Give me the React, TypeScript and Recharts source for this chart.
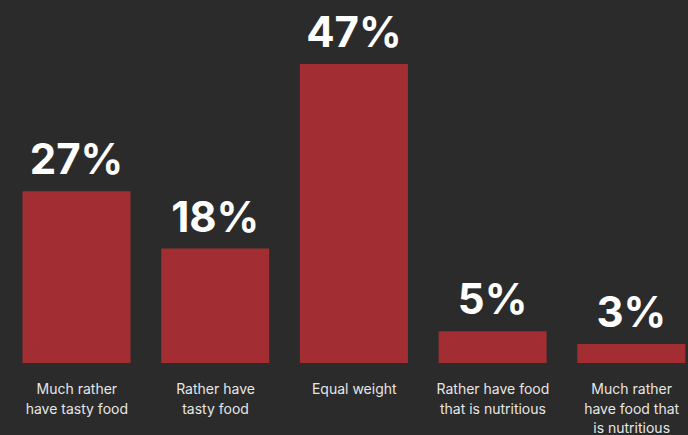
import React from "react";
import { BarChart, Bar, XAxis, YAxis, LabelList } from "recharts";

const categories: string[][] = [
  ["Much rather", "have tasty food"],
  ["Rather have", "tasty food"],
  ["Equal weight"],
  ["Rather have food", "that is nutritious"],
  ["Much rather", "have food that", "is nutritious"],
];
const percents: number[] = [27, 18, 47, 5, 3];

const data = categories.map((lines, i) => ({
  name: lines.join(" "),
  value: percents[i],
}));

const FONT = "Inter, 'Noto Sans', sans-serif";

if (typeof document !== "undefined") {
  document.body.style.margin = "0";
  document.body.style.background = "#2b2b2b";
}

const Tick = (props: any) => {
  const { x, y, payload, index } = props;
  const lines: string[] = categories[index] ?? [String(payload.value)];
  return (
    <text
      x={x}
      y={y}
      textAnchor="middle"
      fill="#e6e6e6"
      fontFamily={FONT}
      fontSize={14}
    >
      {lines.map((l, i) => (
        <tspan key={i} x={x} dy={i === 0 ? 31 : 19.5}>
          {l}
        </tspan>
      ))}
    </text>
  );
};

export default function App() {
  return (
    <div
      style={{
        width: 688,
        height: 435,
        overflow: "hidden",
        background: "#2b2b2b",
      }}
    >
      <BarChart
        width={701}
        height={435}
        data={data}
        margin={{ top: 45, right: 0, bottom: 0, left: 7.5 }}
        barSize={108}
      >
        <XAxis
          dataKey="name"
          axisLine={false}
          tickLine={false}
          tickSize={0}
          tickMargin={0}
          height={72}
          interval={0}
          tick={<Tick />}
        />
        <YAxis hide domain={[0, 50]} />
        <Bar dataKey="value" fill="#a22e33" isAnimationActive={false}>
          <LabelList
            dataKey="value"
            position="top"
            offset={17}
            formatter={(v: any) => `${v}%`}
            fill="#ffffff"
            fontFamily={FONT}
            fontWeight={700}
            fontSize={42}
          />
        </Bar>
      </BarChart>
    </div>
  );
}
